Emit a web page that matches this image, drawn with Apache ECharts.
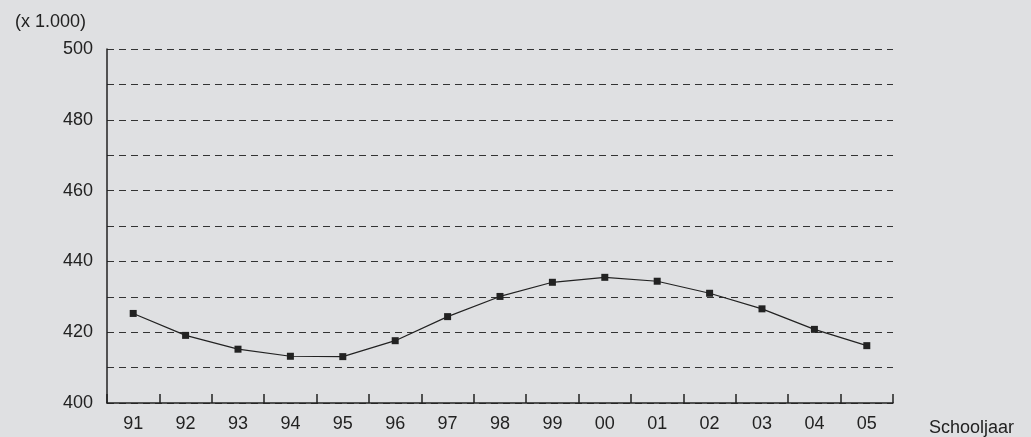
<!DOCTYPE html><html><head><meta charset="utf-8"><script src="https://cdn.jsdelivr.net/npm/echarts@6/dist/echarts.min.js"></script>
<style>html,body{margin:0;background:#dfe0e2}#c{width:1031px;height:437px}</style></head><body><div id="c"></div><script>
const categories=['91','92','93','94','95','96','97','98','99','00','01','02','03','04','05'];
const values=[425.3,419.1,415.2,413.2,413.1,417.6,424.4,430.1,434.1,435.5,434.4,431.0,426.6,420.8,416.2];
const c=echarts.init(document.getElementById('c'));
const F='Liberation Sans';
c.setOption({backgroundColor:'#dfe0e2',animation:false,
grid:{left:107,right:138,top:49,bottom:34},
title:{text:'(x 1.000)',left:10,top:8,textStyle:{fontFamily:F,fontSize:18,fontWeight:'normal',color:'#222'}},
xAxis:{type:'category',data:categories,boundaryGap:true,name:'Schooljaar',nameLocation:'end',nameGap:36,
nameTextStyle:{fontFamily:F,fontSize:18,color:'#222',verticalAlign:'top',padding:[16,0,0,0]},
axisLine:{lineStyle:{color:'#222',width:1.5}},axisTick:{show:true,inside:true,length:9,lineStyle:{color:'#222',width:1.5}},
axisLabel:{fontFamily:F,fontSize:18,color:'#222',margin:12}},
yAxis:{type:'value',min:400,max:500,interval:10,
axisLine:{show:true,lineStyle:{color:'#222',width:1.5}},axisTick:{show:false},
axisLabel:{fontFamily:F,fontSize:18,color:'#222',margin:14,formatter:v=>v%20===0?v:''},
splitLine:{lineStyle:{type:[7,5],color:'#333',width:1.2}}},
series:[{type:'line',data:values,symbol:'rect',symbolSize:7,lineStyle:{color:'#222',width:1.2},itemStyle:{color:'#222'}}]});
</script></body></html>
